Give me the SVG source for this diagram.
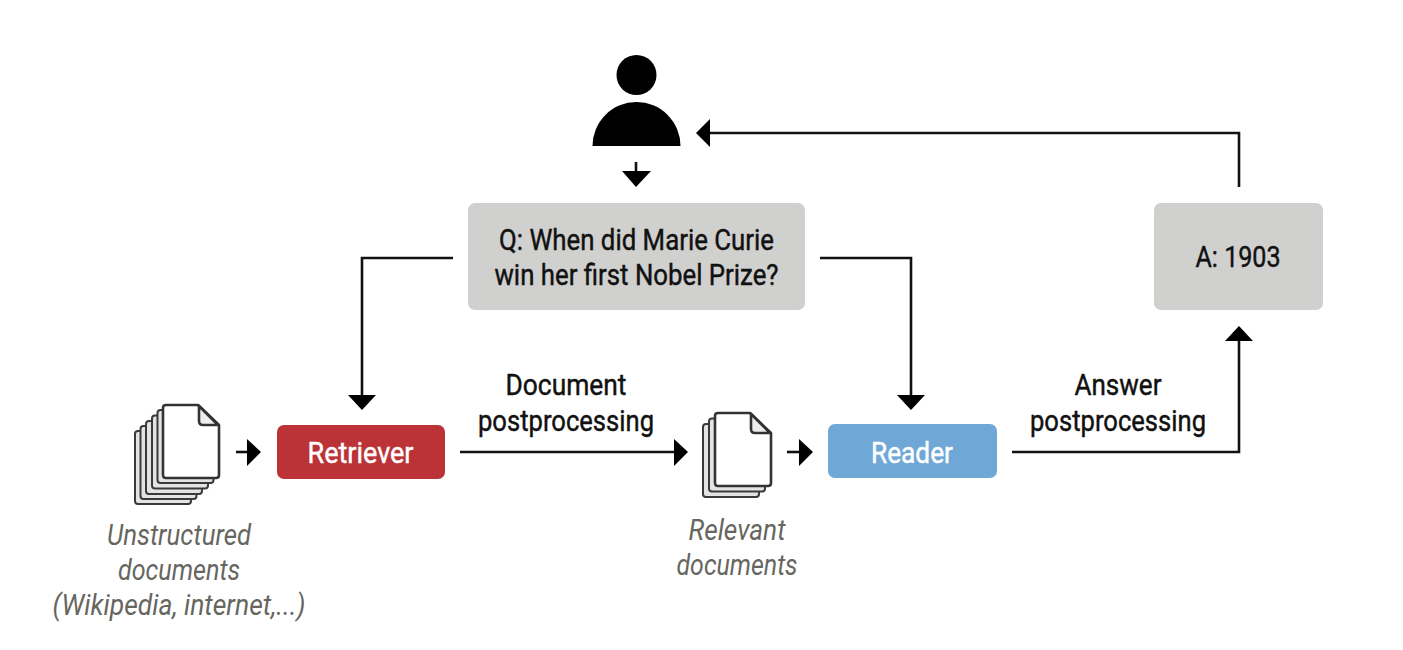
<svg xmlns="http://www.w3.org/2000/svg" width="1403" height="650" viewBox="0 0 1403 650">
<style>
text{font-family:"Roboto","Liberation Sans",sans-serif;text-anchor:middle;font-size:30px;fill:#111;stroke:#111;stroke-width:.45px}
.w{fill:#fff;stroke:#fff}
.c{fill:#66665f;stroke:none;font-style:italic}
.box{fill:#d0d0ce}
.line{fill:none;stroke:#111;stroke-width:2.600}
.head{fill:#000}
.page{fill:#fff;stroke:#333;stroke-width:2.600;stroke-linejoin:round}
.fold{fill:#eee;stroke:#333;stroke-width:2.600;stroke-linejoin:round}
.back .page{fill:#e4e4e4;stroke:#3a3a3a;stroke-width:2}
</style>
<defs>
<path id="pg" d="M3,0H35L56,20V70Q56,73 53,73H3Q0,73 0,70V3Q0,0 3,0Z"/>
<path id="fd" class="fold" d="M36,1V16Q36,20 40,20H55Z"/>
</defs>
<rect width="1403" height="650" fill="#fff"/>
<g id="connectors">
<path class="line" d="M636,162V172"/><path class="head" d="M622,171H651L636,187Z"/>
<path class="line" d="M1239,187V133H708"/><path class="head" d="M710,119V147L696,133Z"/>
<path class="line" d="M453,258H362V396"/><path class="head" d="M348,395H376L362,410Z"/>
<path class="line" d="M820,258H911V396"/><path class="head" d="M897,395H925L911,410Z"/>
<path class="line" d="M236,452H248"/><path class="head" d="M247,439V466L261,452Z"/>
<path class="line" d="M460,452H675"/><path class="head" d="M674,439V466L688,452Z"/>
<path class="line" d="M787,452H800"/><path class="head" d="M799,439V466L813,452Z"/>
<path class="line" d="M1012,452H1239V338"/><path class="head" d="M1225,341H1253L1239,326Z"/>
</g>
<g id="user"><circle cx="636.500" cy="75" r="20" fill="#000"/><path d="M592.500,146A44,44 0 0 1 680.500,146Z" fill="#000"/></g>
<g id="question"><rect class="box" x="468" y="203" width="337" height="107" rx="7"/>
<text x="636.500" y="250" textLength="275" lengthAdjust="spacingAndGlyphs">Q: When did Marie Curie</text>
<text x="636.500" y="285" textLength="284" lengthAdjust="spacingAndGlyphs">win her first Nobel Prize?</text></g>
<g id="answer"><rect class="box" x="1154" y="203" width="169" height="107" rx="7"/>
<text x="1238" y="267" textLength="85" lengthAdjust="spacingAndGlyphs">A: 1903</text></g>
<g id="retriever"><rect x="277" y="425" width="168" height="54" rx="7" fill="#bb3237"/>
<text class="w" x="360.500" y="463" textLength="106" lengthAdjust="spacingAndGlyphs">Retriever</text></g>
<g id="reader"><rect x="828" y="424" width="169" height="54" rx="7" fill="#6fa8d6"/>
<text class="w" x="912" y="463" textLength="82" lengthAdjust="spacingAndGlyphs">Reader</text></g>
<g id="unstructured-documents">
<g class="back"><use class="page" href="#pg" x="135" y="431"/><use class="page" href="#pg" x="140.500" y="426"/><use class="page" href="#pg" x="146" y="421"/><use class="page" href="#pg" x="152" y="415.500"/><use class="page" href="#pg" x="157.500" y="410"/></g><use class="page" href="#pg" x="163" y="405"/><use href="#fd" x="163" y="405"/>
<text class="c" x="179" y="545" textLength="144" lengthAdjust="spacingAndGlyphs">Unstructured</text>
<text class="c" x="179" y="580" textLength="122" lengthAdjust="spacingAndGlyphs">documents</text>
<text class="c" x="179" y="615" textLength="253" lengthAdjust="spacingAndGlyphs">(Wikipedia, internet,...)</text></g>
<g id="relevant-documents">
<g class="back"><use class="page" href="#pg" x="703" y="424"/><use class="page" href="#pg" x="709" y="418.500"/></g><use class="page" href="#pg" x="715" y="413"/><use href="#fd" x="715" y="413"/>
<text class="c" x="737" y="540" textLength="97" lengthAdjust="spacingAndGlyphs">Relevant</text>
<text class="c" x="737" y="575" textLength="121" lengthAdjust="spacingAndGlyphs">documents</text></g>
<g id="labels">
<text x="566" y="395" textLength="121" lengthAdjust="spacingAndGlyphs">Document</text>
<text x="566" y="431" textLength="176" lengthAdjust="spacingAndGlyphs">postprocessing</text>
<text x="1118" y="395" textLength="87" lengthAdjust="spacingAndGlyphs">Answer</text>
<text x="1118" y="431" textLength="176" lengthAdjust="spacingAndGlyphs">postprocessing</text></g>
</svg>
